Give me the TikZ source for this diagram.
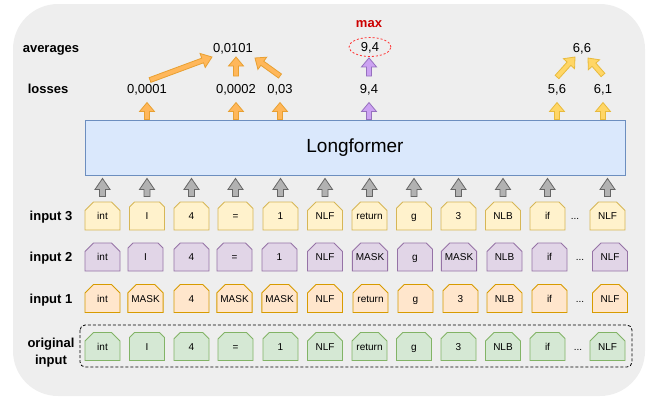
\documentclass[tikz,border=0pt]{standalone}
\usepackage{fontspec}
\setmainfont{Liberation Sans}
\usetikzlibrary{calc,shapes.misc,shapes.geometric}

\definecolor{bggray}{HTML}{EEEEEE}
\definecolor{lffill}{HTML}{DAE8FC}
\definecolor{lfdraw}{HTML}{6C8EBF}
\definecolor{yelfill}{HTML}{FFF2CC}
\definecolor{yeldraw}{HTML}{D6B656}
\definecolor{purfill}{HTML}{E1D5E7}
\definecolor{purdraw}{HTML}{9673A6}
\definecolor{orafill}{HTML}{FFE6CC}
\definecolor{oradraw}{HTML}{D79B00}
\definecolor{grnfill}{HTML}{D5E8D4}
\definecolor{grndraw}{HTML}{82B366}
\definecolor{maxred}{HTML}{CC0000}
\definecolor{ringred}{HTML}{FF3333}

% block arrow: #1 style, #2 start, #3 tip, #4 shaft half-width, #5 head length
\newcommand\blockarrow[5]{%
  \path let \p1=#2, \p2=#3 in \pgfextra{%
    \pgfmathsetmacro\tmpang{atan2(\y2-\y1,\x2-\x1)}\xdef\baang{\tmpang}%
    \pgfmathsetmacro\tmplen{veclen(\x2-\x1,\y2-\y1)}\xdef\balen{\tmplen}%
    \xdef\bax{\x1}\xdef\bay{\y1}};
  \draw[#1, shift={(\bax,\bay)}, rotate=\baang]
    (0pt,-#4) -- ({\balen pt-#5},-#4) -- ({\balen pt-#5},-7.5pt)
    -- (\balen pt,0pt) -- ({\balen pt-#5},7.5pt) -- ({\balen pt-#5},#4)
    -- (0pt,#4) -- cycle;
}

\begin{document}
\begin{tikzpicture}[x=1pt,y=-1pt,
  tok/.style={chamfered rectangle,
    chamfered rectangle corners={north west,north east},
    chamfered rectangle xsep=5pt, chamfered rectangle ysep=5pt,
    minimum width=35pt, minimum height=28pt, inner sep=0pt,
    text height=7pt, text depth=0pt, line width=0.9pt,
    font=\fontsize{10}{12}\selectfont},
  tokA/.style={tok, fill=yelfill, draw=yeldraw},
  tokB/.style={tok, fill=purfill, draw=purdraw},
  tokC/.style={tok, fill=orafill, draw=oradraw},
  tokD/.style={tok, fill=grnfill, draw=grndraw},
  dots/.style={inner sep=0pt, text height=7pt, text depth=0pt,
    font=\fontsize{10}{12}\selectfont},
  rowlabel/.style={anchor=base, inner sep=0pt, font=\bfseries\fontsize{13}{15}\selectfont},
  num/.style={anchor=base, inner sep=0pt, font=\fontsize{13}{15}\selectfont},
  grayarrow/.style={fill=black!30, draw=black!60, line width=0.8pt},
  orangearrow/.style={fill={rgb,255:red,255;green,183;blue,90}, draw={rgb,255:red,232;green,160;blue,50}, line width=0.8pt},
  purplearrow/.style={fill={rgb,255:red,204;green,162;blue,242}, draw={rgb,255:red,150;green,112;blue,190}, line width=0.8pt},
  yellowarrow/.style={fill={rgb,255:red,255;green,214;blue,102}, draw={rgb,255:red,232;green,186;blue,60}, line width=0.8pt},
]
\useasboundingbox (0,0) rectangle (648,397);
\fill[bggray, rounded corners=45pt] (13,4) rectangle (645,396);

% model
\node[draw=lfdraw, fill=lffill, line width=0.9pt, minimum width=540pt, minimum height=55pt,
      inner sep=0pt, font=\fontsize{19}{22}\selectfont] (lf) at (355,147.5) {Longformer};

% token rows
\foreach \lab/\x [count=\i] in {int/102.5, I/147, 4/191.5, =/235.5, 1/280.5, NLF/325,
    return/369.5, g/414, 3/458.5, NLB/503, if/547.5, NLF/607.5}
  {\node[tokA] (t3-\i) at (\x,216) {\lab};}
\node[dots] (d3) at (575,216) {...};

\foreach \lab/\x [count=\i] in {int/102.5, I/145.5, 4/191.5, =/234.5, 1/279.5, NLF/325,
    MASK/370, g/415, MASK/459, NLB/504.5, if/549.5, NLF/610}
  {\node[tokB] (t2-\i) at (\x,257) {\lab};}
\node[dots] (d2) at (580,257) {...};

\foreach \lab/\x [count=\i] in {int/102.5, MASK/145.5, 4/191.5, MASK/234.5, MASK/279.5, NLF/325,
    return/370.5, g/415.5, 3/460.5, NLB/504.5, if/549.5, NLF/610}
  {\node[tokC] (t1-\i) at (\x,298.5) {\lab};}
\node[dots] (d1) at (580,298.5) {...};

\foreach \lab/\x [count=\i] in {int/102.5, I/147, 4/191.5, =/235.5, 1/280.5, NLF/325,
    return/369.5, g/414, 3/458.5, NLB/503, if/547.5, NLF/607.5}
  {\node[tokD] (t0-\i) at (\x,346.5) {\lab};}
\node[dots] (d0) at (578,346.5) {...};

% frame round the original sequence
\draw[line width=0.8pt, dash pattern=on 3pt off 2pt, rounded corners=5pt] (80,325) rectangle (632,367);

% row labels
\node[rowlabel] (lab-avg) at (51,52) {averages};
\node[rowlabel] (lab-loss) at (48,93) {losses};
\node[rowlabel] (lab-in3) at (51,220.5) {input 3};
\node[rowlabel] (lab-in2) at (51,261.5) {input 2};
\node[rowlabel] (lab-in1) at (51,303.5) {input 1};
\node[rowlabel] (lab-orig1) at (51,347.5) {original};
\node[rowlabel] (lab-orig2) at (51,364) {input};

% inputs into the model
\foreach \i in {1,...,12}
  {\blockarrow{grayarrow}{($(t3-\i.north)+(0,-5)$)}{($(lf.south -| t3-\i)+(0,3)$)}{3pt}{11pt}}

% losses
\node[num] (l1) at (147,93) {0,0001};
\node[num] (l2) at (236,93) {0,0002};
\node[num] (l3) at (280,93) {0,03};
\node[num] (l4) at (369,93) {9,4};
\node[num] (l5) at (557,93) {5,6};
\node[num] (l6) at (603,93) {6,1};

\blockarrow{orangearrow}{(lf.north -| l1)}{($(lf.north -| l1)+(0,-17)$)}{2.5pt}{9pt}
\blockarrow{orangearrow}{(lf.north -| l2)}{($(lf.north -| l2)+(0,-17)$)}{2.5pt}{9pt}
\blockarrow{orangearrow}{(lf.north -| l3)}{($(lf.north -| l3)+(0,-17)$)}{2.5pt}{9pt}
\blockarrow{purplearrow}{(lf.north -| l4)}{($(lf.north -| l4)+(0,-17)$)}{2.5pt}{9pt}
\blockarrow{yellowarrow}{(lf.north -| l5)}{($(lf.north -| l5)+(0,-17)$)}{2.5pt}{9pt}
\blockarrow{yellowarrow}{(lf.north -| l6)}{($(lf.north -| l6)+(0,-17)$)}{2.5pt}{9pt}

% averages
\node[num] (a1) at (233,52) {0,0101};
\node[ellipse, draw=ringred, line width=0.8pt, dash pattern=on 2pt off 2pt,
      minimum width=42pt, minimum height=19pt, inner sep=0pt,
      text height=9.3pt, text depth=0pt, font=\fontsize{13}{15}\selectfont] (a2) at (370,47) {9,4};
\node[num] (a3) at (582,52) {6,6};
\node[anchor=base, inner sep=0pt, text=maxred, font=\bfseries\fontsize{13}{15}\selectfont] (mx) at (369,27.5) {max};

\blockarrow{orangearrow}{($(l1.base)+(3,-13)$)}{($(a1.base)+(-21,5)$)}{2.5pt}{10pt}
\blockarrow{orangearrow}{($(l2.base)+(0,-17)$)}{($(a1.base -| l2)+(0,5)$)}{2.5pt}{9pt}
\blockarrow{orangearrow}{($(l3.base)+(0,-17)$)}{($(a1.base)+(22,6)$)}{2.5pt}{9pt}
\blockarrow{purplearrow}{($(l4.base)+(0,-17)$)}{($(a2.south -| l4)+(0,1)$)}{2.5pt}{9pt}
\blockarrow{yellowarrow}{($(l5.base)+(0,-16)$)}{($(a3.base)+(-7,5)$)}{2.5pt}{9pt}
\blockarrow{yellowarrow}{($(l6.base)+(0,-18)$)}{($(a3.base)+(6,6)$)}{2.5pt}{9pt}
\end{tikzpicture}
\end{document}
